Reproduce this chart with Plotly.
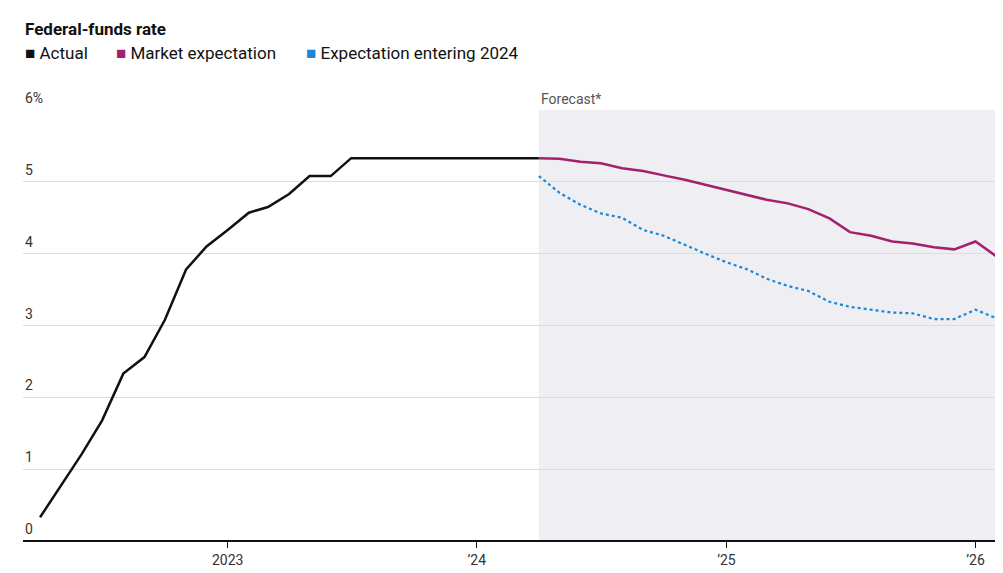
import pandas as pd
import plotly.graph_objects as go

actual_dates = pd.date_range("2022-04-01", "2024-04-01", freq="MS")
actual = [0.33, 0.77, 1.21, 1.68, 2.33, 2.56, 3.08, 3.78, 4.10, 4.33, 4.57, 4.65,
          4.83, 5.08, 5.08, 5.33, 5.33, 5.33, 5.33, 5.33, 5.33, 5.33, 5.33, 5.33, 5.33]

fc_dates = pd.date_range("2024-04-01", "2026-02-01", freq="MS")
market = [5.33, 5.32, 5.28, 5.26, 5.19, 5.15, 5.09, 5.03, 4.96, 4.89, 4.82, 4.75,
          4.70, 4.62, 4.49, 4.30, 4.25, 4.17, 4.14, 4.09, 4.06, 4.17, 3.96]
entering = [5.08, 4.85, 4.68, 4.56, 4.50, 4.33, 4.25, 4.12, 4.00, 3.88, 3.78, 3.65,
            3.55, 3.48, 3.33, 3.26, 3.22, 3.18, 3.17, 3.09, 3.09, 3.22, 3.10]

y_ticks = [0, 1, 2, 3, 4, 5, 6]
x_ticks = ["2023-01-01", "2024-01-01", "2025-01-01", "2026-01-01"]
x_labels = ["2023", "’24", "’25", "’26"]

INK = "#111111"
MAGENTA = "#a3206f"
BLUE = "#1b87d6"
GRID = "#dddddd"
FONT = "Roboto, Noto Sans, sans-serif"

fig = go.Figure()
fig.add_vrect(x0="2024-04-01", x1="2026-03-01", fillcolor="#efeef2", line_width=0, layer="below")
fig.add_scatter(x=actual_dates, y=actual, mode="lines", line=dict(color=INK, width=2.5))
fig.add_scatter(x=fc_dates, y=entering, mode="lines", line=dict(color=BLUE, width=2.2, dash="dot"))
fig.add_scatter(x=fc_dates, y=market, mode="lines", line=dict(color=MAGENTA, width=2.5))

anns = [dict(x=0, xref="paper", y=v, yref="y", text=f"{v}%" if v == 6 else str(v),
             showarrow=False, xanchor="left", yanchor="bottom", yshift=2,
             font=dict(size=14, color="#333")) for v in y_ticks]
anns.append(dict(x="2024-04-01", y=6, xref="x", yref="y", text="Forecast*", showarrow=False,
                 xanchor="left", yanchor="bottom", yshift=1, font=dict(size=14, color="#555")))
anns.append(dict(x=0, xref="paper", y=1.215, yref="paper", text="<b>Federal-funds rate</b>",
                 showarrow=False, xanchor="left", yanchor="top", font=dict(size=17, color=INK)))
legend = [("Actual", INK, 0.0), ("Market expectation", MAGENTA, 0.093),
          ("Expectation entering 2024", BLUE, 0.288)]
for name, col, xp in legend:
    anns.append(dict(x=xp, xref="paper", y=1.16, yref="paper", showarrow=False,
                     xanchor="left", yanchor="top",
                     text=f"<span style='color:{col}'>■</span> {name}",
                     font=dict(size=17, color=INK)))

fig.update_layout(
    width=1003, height=573, showlegend=False, plot_bgcolor="white", paper_bgcolor="white",
    margin=dict(l=15, r=13, t=102, b=40), font=dict(family=FONT, color=INK),
    annotations=anns,
    xaxis=dict(range=["2022-03-07", "2026-02-03"], tickvals=x_ticks, ticktext=x_labels,
               showgrid=False, ticks="outside", ticklen=6, tickcolor=INK,
               tickfont=dict(size=14, color="#333"), zeroline=False, showline=False),
    yaxis=dict(range=[0, 6], tickvals=y_ticks, showticklabels=False, gridcolor=GRID,
               zeroline=True, zerolinecolor=INK, zerolinewidth=1.5, fixedrange=True),
)
fig.write_html("out.html")
